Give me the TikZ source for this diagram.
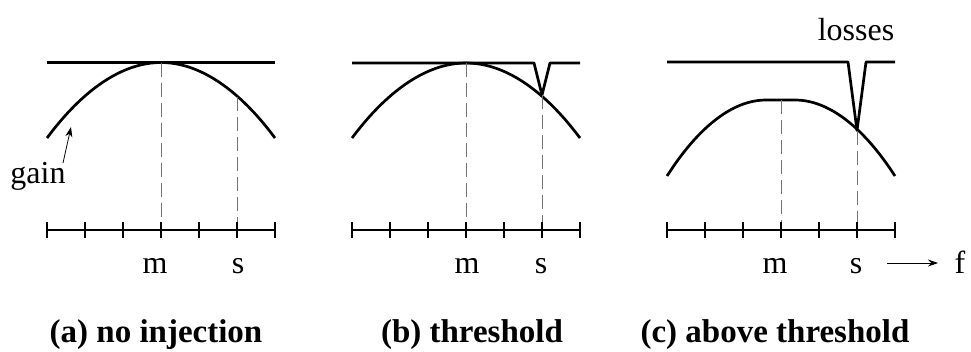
\documentclass[tikz,border=0pt]{standalone}
\usepackage{fontspec}
\setmainfont{Liberation Serif}
\usetikzlibrary{arrows.meta}
\begin{document}
\begin{tikzpicture}[x=1pt,y=-1pt,
  thick curve/.style={line width=2.7pt, line join=round},
  guide/.style={line width=0.8pt, black!55, dash pattern=on 14pt off 6pt},
  lbl/.style={font=\fontsize{32}{38}\selectfont, inner sep=0pt, anchor=base},
  captext/.style={font=\fontsize{33}{39}\selectfont\bfseries, inner sep=0pt, anchor=base},
  thin arrow/.style={line width=0.8pt, -{Stealth[length=10pt,width=7pt]}},
]
\useasboundingbox (0,0) rectangle (971,351);

% ---------- panel (a) ----------
\coordinate (aL) at (47,62.5);
\coordinate (aR) at (275,62.5);
\coordinate (aM) at (161,62.5);
\coordinate (aS) at (237,97);
\coordinate (aMx) at (161,230);
\coordinate (aSx) at (237,230);
\draw[thick curve] (aL) -- (aR);
\draw[thick curve] (47,138) parabola bend (aM) (275,138);
\draw[guide] (aM) -- (aMx);
\draw[guide] (aS) -- (aSx);
\draw[thick curve] (47,230) -- (275,230);
\foreach \i in {0,...,6} \draw[thick curve] (47+38*\i,222) -- (47+38*\i,238);
\node[lbl] (am) at (155,273) {m};
\node[lbl] (as) at (238,273) {s};
\node[lbl, anchor=center] (gain) at (38,176) {gain};
\coordinate (gaintip) at (71,127);
\coordinate (gaintail) at (63,163);
\draw[thin arrow] (gaintail) -- (gaintip);
\node[captext] (capa) at (156,342) {(a) no injection};

% ---------- panel (b) ----------
\coordinate (bL) at (352,63);
\coordinate (bR) at (580,63);
\coordinate (bM) at (466,63);
\coordinate (bS) at (542,95);
\coordinate (bMx) at (466,230);
\coordinate (bSx) at (542,230);
\draw[thick curve] (bL) -- (534,63) -- (bS) -- (550,63) -- (bR);
\draw[thick curve] (352,138) parabola bend (bM) (580,138);
\draw[guide] (bM) -- (bMx);
\draw[guide] (bS) -- (bSx);
\draw[thick curve] (352,230) -- (580,230);
\foreach \i in {0,...,6} \draw[thick curve] (352+38*\i,222) -- (352+38*\i,238);
\node[lbl] (bm) at (467,273) {m};
\node[lbl] (bs) at (541,273) {s};
\node[captext] (capb) at (472,342) {(b) threshold};

% ---------- panel (c) ----------
\coordinate (cL) at (667,62);
\coordinate (cR) at (895,62);
\coordinate (cM) at (781,100);
\coordinate (cS) at (857,130.5);
\coordinate (cMx) at (781,230);
\coordinate (cSx) at (857,230);
\draw[thick curve] (cL) -- (848,62) -- (cS) -- (866,62) -- (cR);
\draw[thick curve] (667,176) parabola[bend at end] (766,100) -- (795,100) parabola (895,176);
\draw[guide] (cM) -- (cMx);
\draw[guide] (cS) -- (cSx);
\draw[thick curve] (667,230) -- (895,230);
\foreach \i in {0,...,6} \draw[thick curve] (667+38*\i,222) -- (667+38*\i,238);
\node[lbl] (cm) at (775,273) {m};
\node[lbl] (cs) at (856,273) {s};
\node[lbl, anchor=center] (losses) at (856,30) {losses};
\node[lbl] (f) at (960,273) {f};
\coordinate (ftail) at (887,263);
\coordinate (fhead) at (938,263);
\draw[thin arrow] (ftail) -- (fhead);
\node[captext] (capc) at (775,342) {(c) above threshold};
\end{tikzpicture}
\end{document}
